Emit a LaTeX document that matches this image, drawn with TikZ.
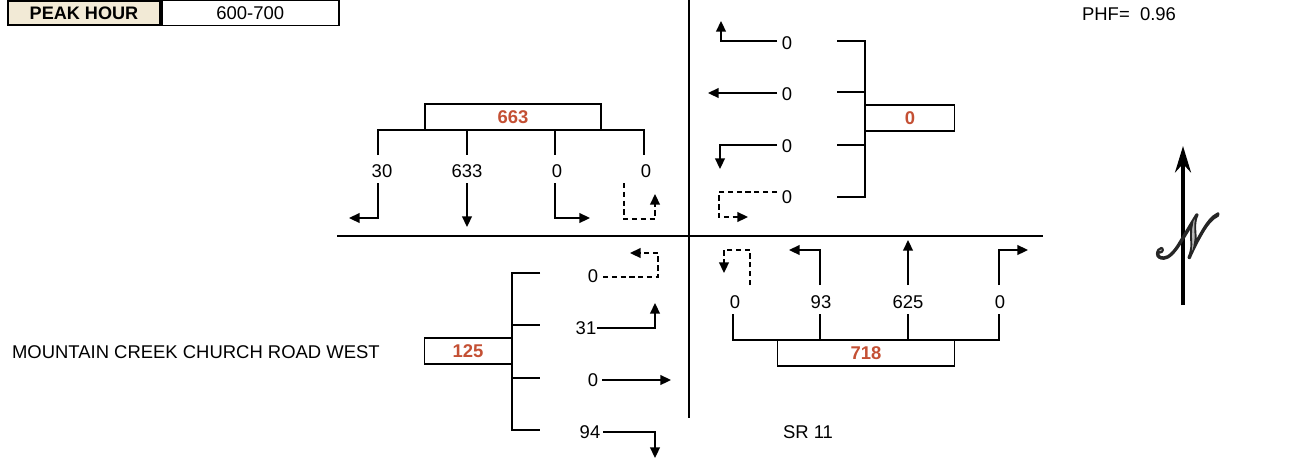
\documentclass[tikz,border=0pt]{standalone}
\usepackage{fontspec}
\setmainfont{Liberation Sans}
\usepackage{mathrsfs}
\usetikzlibrary{arrows.meta}
\definecolor{volred}{RGB}{196,80,52}
\definecolor{peakfill}{RGB}{242,234,214}
\newcommand{\outlined}[1]{\special{pdf:literal direct q 2 Tr 0.9 w 0.15 G}#1\special{pdf:literal direct Q}}

\begin{document}
\begin{tikzpicture}[x=0.02cm,y=-0.02cm,
  lbl/.style={font=\fontsize{10.5}{12}\selectfont,inner sep=1pt},
  tot/.style={draw,line width=1.1pt,minimum height=0.52cm,inner sep=0pt,
    font=\fontsize{10.5}{12}\selectfont\bfseries,text=volred},
  leg/.style={line width=1pt},
  mov/.style={line width=1pt,-{Triangle[length=6pt,width=5.5pt]}},
  rtor/.style={mov,dash pattern=on 3pt off 2pt}]
\useasboundingbox (0,0) rectangle (1315,467);

% peak hour and PHF
\node[draw,line width=1pt,fill=peakfill,minimum width=3.04cm,minimum height=0.48cm,
  font=\fontsize{10.3}{11}\selectfont\bfseries] (peak) at (84,13) {PEAK HOUR};
\node[draw,line width=1pt,minimum width=3.54cm,minimum height=0.48cm,anchor=west,
  font=\fontsize{10.5}{11}\selectfont] (peaktime) at (peak.east) {600-700};
\node[lbl,anchor=west] (phf) at (1080,14) {PHF=\ \ 0.96};

% street centre lines
\draw[line width=1.3pt] (689,0) -- (689,418);
\draw[line width=1.3pt] (337,236) -- (1043,236);

% southbound approach
\node[tot,minimum width=3.52cm] (sbtot) at (513,117) {663};
\draw[leg] (378,155) -- (378,130) -- (644,130) -- (644,155);
\draw[leg] (467,130) -- (467,155);
\draw[leg] (555,130) -- (555,155);
\node[lbl] (sbr) at (382,171) {30};
\node[lbl] (sbt) at (467,171) {633};
\node[lbl] (sbl) at (557,171) {0};
\node[lbl] (sbu) at (646,171) {0};
\draw[mov] (378,183) -- (378,218) -- (349,218);
\draw[mov] (467,183) -- (467,227);
\draw[mov] (555,183) -- (555,218) -- (590,218);
\draw[rtor] (624,183) -- (624,219) -- (655,219) -- (655,194);

% westbound approach
\node[tot,minimum width=1.78cm] (wbtot) at (910,118) {0};
\draw[leg] (837,41) -- (865,41) -- (865,197) -- (837,197);
\draw[leg] (837,92) -- (865,92);
\draw[leg] (837,145) -- (865,145);
\node[lbl] (wbr) at (787,43) {0};
\node[lbl] (wbt) at (787,94) {0};
\node[lbl] (wbl) at (787,146) {0};
\node[lbl] (wbu) at (787,197) {0};
\draw[mov] (777,41) -- (721,41) -- (721,21);
\draw[mov] (777,93) -- (708,93);
\draw[mov] (777,145) -- (720,145) -- (720,169);
\draw[rtor] (777,192) -- (719,192) -- (719,217) -- (748,217);

% eastbound approach
\node[lbl,anchor=west] (ebname) at (10,352) {MOUNTAIN CREEK CHURCH ROAD WEST};
\node[tot,minimum width=1.74cm] (ebtot) at (468,351) {125};
\draw[leg] (540,273) -- (512,273) -- (512,430) -- (540,430);
\draw[leg] (512,325) -- (540,325);
\draw[leg] (512,378) -- (540,378);
\node[lbl] (ebu) at (593,276) {0};
\node[lbl] (ebl) at (586,328) {31};
\node[lbl] (ebt) at (593,380) {0};
\node[lbl] (ebr) at (590,432) {94};
\draw[rtor] (603,277) -- (658,277) -- (658,253) -- (630,253);
\draw[mov] (597,328) -- (655,328) -- (655,303);
\draw[mov] (602,380) -- (671,380);
\draw[mov] (603,432) -- (655,432) -- (655,458);

% northbound approach
\node[tot,minimum width=3.54cm] (nbtot) at (866,353) {718};
\draw[leg] (733,314) -- (733,340) -- (999,340) -- (999,314);
\draw[leg] (820,340) -- (820,314);
\draw[leg] (908,340) -- (908,314);
\node[lbl] (nbu) at (735,302) {0};
\node[lbl] (nbl) at (821,302) {93};
\node[lbl] (nbt) at (908,302) {625};
\node[lbl] (nbr) at (1000,302) {0};
\draw[rtor] (750,285) -- (750,250) -- (724,250) -- (724,273);
\draw[mov] (820,285) -- (820,250) -- (789,250);
\draw[mov] (908,285) -- (908,240);
\draw[mov] (999,285) -- (999,250) -- (1028,250);
\node[lbl] (nbname) at (808,432) {SR 11};

% north arrow
\draw[line width=2.4pt,-{Stealth[length=15pt,width=9pt]}] (1183,305) -- (1183,146);
\node[text=gray!55,font=\fontsize{66}{66}\selectfont] (north) at (1188,236)
  {\scalebox{1.2}[1.4]{\outlined{$\mathscr{N}$}}};
\end{tikzpicture}
\end{document}
